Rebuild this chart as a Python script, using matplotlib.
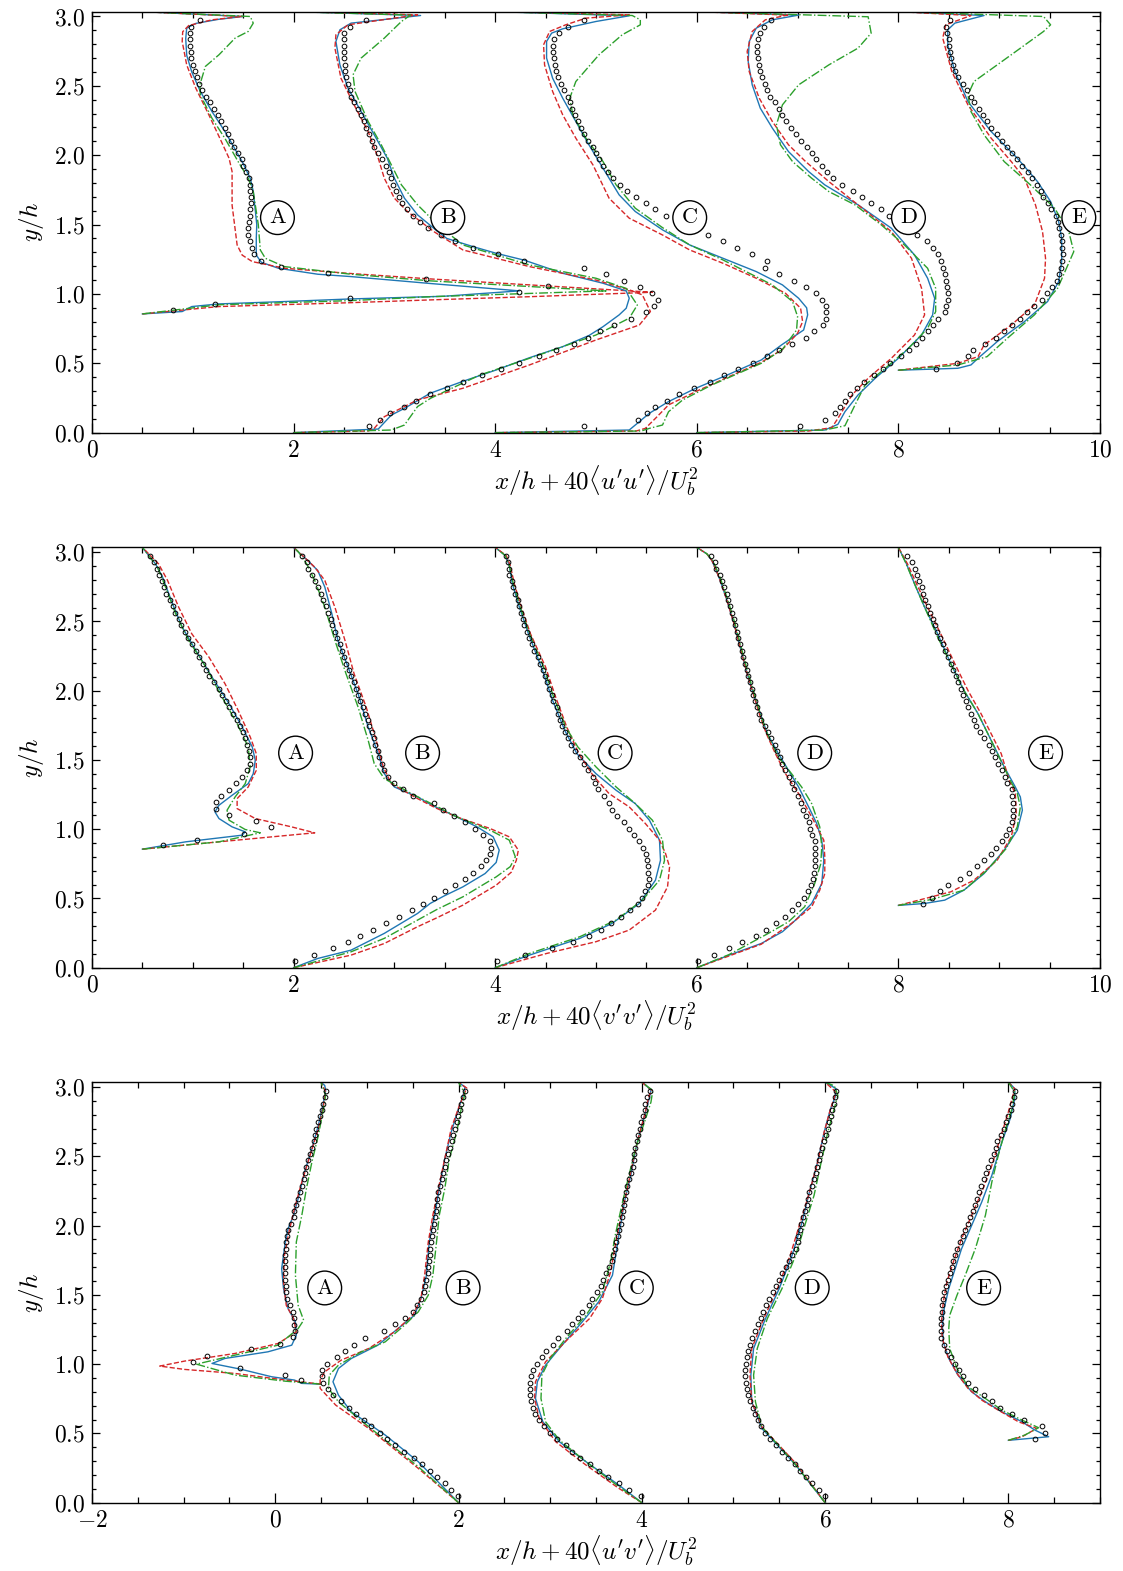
import numpy as np
import matplotlib.pyplot as plt
from matplotlib.ticker import MultipleLocator

plt.rcParams['mathtext.fontset'] = 'cm'
plt.rcParams['font.family'] = 'serif'
plt.rcParams['font.serif'] = ['cmr10']
plt.rcParams['axes.formatter.use_mathtext'] = True

# stations and wall height
stations = ['A', 'B', 'C', 'D', 'E']
y_top = 3.035

# reference (DNS) sampling heights, shared by the stations
y_dns = [0.046, 0.092, 0.140, 0.183, 0.229, 0.276, 0.322, 0.368, 0.414, 0.459,
         0.505, 0.551, 0.594, 0.640, 0.685, 0.731, 0.776, 0.822, 0.867, 0.913,
         0.958, 1.004, 1.049, 1.095, 1.141, 1.187, 1.240, 1.288, 1.333, 1.378,
         1.425, 1.472, 1.520, 1.564, 1.610, 1.656, 1.699, 1.743, 1.786, 1.834,
         1.880, 1.925, 1.970, 2.014, 2.060, 2.106, 2.151, 2.195, 2.243, 2.289,
         2.334, 2.380, 2.423, 2.471, 2.516, 2.562, 2.609, 2.653, 2.700, 2.746,
         2.790, 2.837, 2.880, 2.926, 2.972]
y_dns_crest = [0.885, 0.925, 0.969, 1.017, 1.060, 1.106, 1.149, 1.197, 1.240, 1.286]

# ---------------- <u'u'> ----------------
uu_dns_a = [0.80, 1.22, 2.56, 4.24, 4.52, 3.31, 2.34, 1.88, 1.68, 1.61,
            1.585, 1.57,
            1.55, 1.55, 1.56, 1.566, 1.57, 1.576, 1.58, 1.57, 1.566, 1.553,
            1.53, 1.503, 1.487, 1.447, 1.41, 1.378, 1.35, 1.316, 1.283, 1.247,
            1.21, 1.174, 1.13, 1.09, 1.06, 1.043, 1.02, 1.0, 0.987, 0.98,
            0.974, 0.974, 0.977, 0.987, 1.07]
uu_dns_b = [2.75, 2.86, 2.96, 3.10, 3.21, 3.35, 3.52, 3.68, 3.87, 4.06,
            4.24, 4.43, 4.60, 4.78, 4.92, 5.04, 5.18, 5.35, 5.50, 5.58,
            5.62, 5.56, 5.44, 5.28, 5.10, 4.88, 4.29, 4.03, 3.78, 3.60,
            3.46, 3.33, 3.25, 3.18, 3.125, 3.08, 3.05, 3.02, 2.99, 2.97,
            2.95, 2.92, 2.88, 2.84, 2.80, 2.78, 2.75, 2.72, 2.70, 2.67,
            2.64, 2.60, 2.57, 2.56, 2.54, 2.52, 2.51, 2.51, 2.50, 2.50,
            2.50, 2.50, 2.50, 2.56, 2.72]
uu_dns_c = [4.88, 5.42, 5.51, 5.59, 5.70, 5.82, 5.97, 6.13, 6.27, 6.41,
            6.56, 6.70, 6.82, 6.94, 7.08, 7.16, 7.25, 7.28, 7.28, 7.28,
            7.24, 7.18, 7.08, 6.96, 6.82, 6.68, 6.70, 6.55, 6.40, 6.26,
            6.11, 5.95, 5.82, 5.69, 5.59, 5.50, 5.40, 5.31, 5.24, 5.17,
            5.12, 5.07, 5.03, 5.00, 4.97, 4.92, 4.88, 4.85, 4.82, 4.79,
            4.76, 4.74, 4.72, 4.68, 4.65, 4.62, 4.60, 4.59, 4.58, 4.57,
            4.57, 4.58, 4.63, 4.72, 4.88]
uu_dns_d = [7.02, 7.27, 7.37, 7.42, 7.47, 7.52, 7.59, 7.66, 7.76, 7.85,
            7.92, 8.03, 8.11, 8.17, 8.23, 8.29, 8.34, 8.39, 8.46, 8.47,
            8.49, 8.49, 8.48, 8.47, 8.46, 8.44, 8.42, 8.39, 8.34, 8.28,
            8.18, 8.09, 8.00, 7.91, 7.83, 7.73, 7.64, 7.55, 7.44, 7.35,
            7.29, 7.24, 7.18, 7.14, 7.09, 7.03, 6.98, 6.93, 6.89, 6.85,
            6.82, 6.78, 6.73, 6.70, 6.68, 6.65, 6.63, 6.62, 6.61, 6.60,
            6.60, 6.61, 6.63, 6.67, 6.74]
uu_dns_e = [8.37,
            8.58, 8.69, 8.74, 8.86, 8.97, 9.05, 9.13, 9.21, 9.28, 9.35,
            9.42, 9.47, 9.52, 9.57, 9.59, 9.61, 9.62, 9.63, 9.62, 9.62,
            9.61, 9.59, 9.58, 9.56, 9.51, 9.48, 9.43, 9.41, 9.38, 9.33,
            9.29, 9.23, 9.18, 9.13, 9.08, 9.03, 8.98, 8.92, 8.88, 8.84,
            8.80, 8.75, 8.72, 8.68, 8.64, 8.59, 8.56, 8.54, 8.52, 8.51,
            8.50, 8.50, 8.48, 8.47, 8.51]

# model profiles as (x, y) points; m1 solid blue, m2 dashed red, m3 dash-dot green
uu_a_m1 = [(0.5, 0.856), (0.895, 0.873), (0.99, 0.909), (1.26, 0.928), (1.91, 0.945),
           (2.57, 0.964), (3.49, 0.983), (3.85, 1.002), (4.24, 1.022), (3.36, 1.075),
           (2.57, 1.125), (2.24, 1.142), (1.85, 1.185), (1.68, 1.228), (1.63, 1.28),
           (1.63, 1.4), (1.635, 1.5), (1.6, 1.74), (1.57, 1.834), (1.49, 1.954),
           (1.32, 2.17), (1.19, 2.315), (1.075, 2.46), (0.99, 2.6), (0.94, 2.72),
           (0.93, 2.84), (0.94, 2.916), (1.03, 2.95), (1.26, 2.98), (1.5, 3.0), (0.5, 3.035)]
uu_a_m2 = [(0.5, 0.856), (1.26, 0.909), (2.57, 0.937), (3.36, 0.957), (4.34, 0.98),
           (5.56, 1.012), (3.36, 1.108), (2.57, 1.147), (1.91, 1.185), (1.59, 1.233),
           (1.49, 1.28), (1.44, 1.353), (1.39, 1.64), (1.39, 1.882), (1.36, 1.978),
           (1.27, 2.12), (1.16, 2.29), (1.03, 2.483), (0.94, 2.65), (0.895, 2.82),
           (0.9, 2.89), (0.96, 2.935), (1.19, 2.976), (1.49, 3.0), (0.5, 3.035)]
uu_a_m3 = [(0.5, 0.856), (1.26, 0.922), (2.57, 0.952), (3.36, 0.98), (5.1, 1.022),
           (3.36, 1.094), (2.57, 1.142), (1.91, 1.197), (1.72, 1.257), (1.67, 1.317),
           (1.65, 1.5), (1.6, 1.738), (1.55, 1.834), (1.45, 1.954), (1.32, 2.12),
           (1.19, 2.267), (1.075, 2.435), (1.07, 2.507), (1.125, 2.64), (1.26, 2.724),
           (1.42, 2.844), (1.55, 2.892), (1.6, 2.952), (1.57, 3.0), (0.5, 3.035)]
uu_b_m1 = [(2.0, 0.0), (2.84, 0.026), (2.97, 0.127), (3.1, 0.175), (3.355, 0.284),
           (3.68, 0.37), (4.01, 0.452), (4.34, 0.54), (4.67, 0.62), (4.93, 0.7),
           (5.07, 0.764), (5.23, 0.849), (5.3, 0.897), (5.33, 0.969), (5.3, 1.022),
           (5.07, 1.077), (4.67, 1.149), (4.29, 1.243), (4.01, 1.293), (3.78, 1.341),
           (3.52, 1.4), (3.43, 1.45), (3.23, 1.57), (3.1, 1.69), (3.0, 1.834),
           (2.93, 1.978), (2.8, 2.147), (2.67, 2.315), (2.54, 2.483), (2.46, 2.65),
           (2.42, 2.82), (2.46, 2.904), (2.57, 2.952), (3.26, 3.007), (2.0, 3.035)]
uu_b_m2 = [(2.0, 0.0), (2.74, 0.012), (2.8, 0.031), (2.9, 0.115), (3.23, 0.236),
           (3.68, 0.32), (4.34, 0.488), (5.0, 0.668), (5.43, 0.776), (5.54, 0.873),
           (5.46, 0.993), (5.33, 1.03), (5.0, 1.1), (4.34, 1.197), (3.68, 1.317),
           (3.39, 1.45), (3.13, 1.594), (3.0, 1.69), (2.9, 1.834), (2.84, 1.978),
           (2.74, 2.17), (2.6, 2.363), (2.47, 2.555), (2.41, 2.772), (2.42, 2.868),
           (2.54, 2.94), (3.23, 3.012), (2.0, 3.035)]
uu_b_m3 = [(2.0, 0.0), (2.97, 0.019), (3.1, 0.055), (3.23, 0.188), (3.36, 0.248),
           (3.85, 0.416), (4.34, 0.536), (5.0, 0.704), (5.33, 0.825), (5.41, 0.92),
           (5.3, 1.04), (5.0, 1.113), (4.34, 1.209), (3.68, 1.353), (3.43, 1.498),
           (3.23, 1.642), (3.07, 1.786), (2.97, 1.93), (2.87, 2.075), (2.74, 2.243),
           (2.61, 2.459), (2.59, 2.58), (2.67, 2.7), (2.9, 2.844), (3.07, 2.964),
           (3.16, 3.01), (2.0, 3.035)]
uu_c_m1 = [(4.0, 0.0), (5.33, 0.019), (5.41, 0.067), (5.53, 0.14), (5.72, 0.224),
           (5.99, 0.32), (6.32, 0.421), (6.64, 0.524), (6.84, 0.632), (7.06, 0.74),
           (7.1, 0.849), (7.09, 0.9), (7.01, 0.969), (6.85, 1.065), (6.59, 1.161),
           (6.26, 1.257), (5.93, 1.353), (5.66, 1.462), (5.39, 1.594), (5.23, 1.714),
           (5.07, 1.906), (4.93, 2.075), (4.8, 2.243), (4.67, 2.411), (4.57, 2.555),
           (4.51, 2.7), (4.51, 2.82), (4.56, 2.88), (4.67, 2.911), (5.0, 2.964),
           (5.33, 3.005), (4.0, 3.035)]
uu_c_m2 = [(4.0, 0.0), (5.4, 0.012), (5.49, 0.031), (5.59, 0.103), (5.72, 0.2),
           (5.99, 0.296), (6.32, 0.404), (6.64, 0.507), (6.85, 0.6), (7.0, 0.716),
           (7.05, 0.8), (7.03, 0.897), (6.88, 1.005), (6.59, 1.113), (6.26, 1.221),
           (5.93, 1.317), (5.66, 1.425), (5.33, 1.546), (5.13, 1.69), (4.97, 1.93),
           (4.8, 2.123), (4.67, 2.291), (4.57, 2.459), (4.49, 2.651), (4.48, 2.796),
           (4.54, 2.892), (4.7, 2.94), (4.9, 2.988), (5.33, 3.012), (4.0, 3.035)]
uu_c_m3 = [(4.0, 0.0), (5.45, 0.012), (5.53, 0.031), (5.66, 0.055), (5.72, 0.151),
           (5.86, 0.236), (6.15, 0.344), (6.64, 0.5), (6.85, 0.6), (6.99, 0.74),
           (7.0, 0.837), (6.95, 0.945), (6.75, 1.065), (6.26, 1.245), (5.93, 1.353),
           (5.66, 1.478), (5.39, 1.618), (5.2, 1.786), (5.07, 1.954), (4.9, 2.123),
           (4.77, 2.291), (4.74, 2.411), (4.8, 2.531), (5.03, 2.724), (5.26, 2.868),
           (5.44, 2.94), (5.44, 2.976), (5.36, 3.007), (4.0, 3.035)]
uu_d_m1 = [(6.0, 0.0), (7.27, 0.019), (7.4, 0.06), (7.47, 0.151), (7.6, 0.272),
           (7.77, 0.392), (8.0, 0.536), (8.23, 0.704), (8.34, 0.849), (8.36, 0.969),
           (8.29, 1.113), (8.16, 1.281), (7.93, 1.474), (7.6, 1.642), (7.27, 1.786),
           (7.11, 1.882), (6.91, 2.026), (6.75, 2.195), (6.63, 2.339), (6.55, 2.507),
           (6.51, 2.675), (6.52, 2.82), (6.59, 2.916), (6.75, 2.976), (7.01, 3.01),
           (6.0, 3.035)]
uu_d_m2 = [(6.0, 0.0), (7.11, 0.012), (7.34, 0.036), (7.4, 0.103), (7.54, 0.272),
           (7.7, 0.392), (7.93, 0.536), (8.16, 0.704), (8.26, 0.849), (8.23, 1.041),
           (8.13, 1.257), (7.93, 1.45), (7.6, 1.642), (7.31, 1.81), (7.08, 1.954),
           (6.91, 2.075), (6.75, 2.243), (6.62, 2.411), (6.52, 2.603), (6.5, 2.748),
           (6.55, 2.892), (6.68, 2.976), (6.9, 3.01), (6.0, 3.035)]
uu_d_m3 = [(6.0, 0.0), (7.27, 0.019), (7.47, 0.05), (7.57, 0.2), (7.67, 0.344),
           (7.87, 0.464), (8.1, 0.608), (8.29, 0.752), (8.37, 0.873), (8.37, 1.041),
           (8.29, 1.185), (8.06, 1.353), (7.83, 1.498), (7.57, 1.642), (7.31, 1.738),
           (7.14, 1.834), (6.95, 1.954), (6.83, 2.075), (6.79, 2.219), (6.85, 2.363),
           (7.01, 2.507), (7.31, 2.651), (7.6, 2.772), (7.73, 2.88), (7.7, 2.998),
           (6.0, 3.035)]
uu_e_m1 = [(8.0, 0.45), (8.59, 0.464), (8.72, 0.488), (8.79, 0.536), (8.98, 0.656),
           (9.25, 0.8), (9.48, 0.945), (9.59, 1.089), (9.62, 1.233), (9.62, 1.401),
           (9.59, 1.522), (9.51, 1.666), (9.38, 1.81), (9.18, 1.978), (8.92, 2.171),
           (8.69, 2.387), (8.56, 2.603), (8.49, 2.796), (8.49, 2.904), (8.56, 2.952),
           (8.85, 3.007), (8.0, 3.035)]
uu_e_m2 = [(8.0, 0.45), (8.59, 0.5), (8.79, 0.548), (8.85, 0.632), (9.12, 0.776),
           (9.35, 0.921), (9.45, 1.113), (9.46, 1.257), (9.43, 1.45), (9.36, 1.642),
           (9.25, 1.834), (9.12, 1.954), (8.92, 2.123), (8.69, 2.363), (8.53, 2.603),
           (8.44, 2.844), (8.47, 2.94), (8.72, 3.007), (8.0, 3.035)]
uu_e_m3 = [(8.0, 0.45), (8.59, 0.488), (8.88, 0.548), (9.08, 0.68), (9.35, 0.849),
           (9.58, 1.041), (9.74, 1.305), (9.69, 1.45), (9.55, 1.618), (9.31, 1.786),
           (9.05, 1.954), (8.85, 2.147), (8.72, 2.315), (8.69, 2.435), (8.75, 2.531),
           (9.12, 2.724), (9.44, 2.892), (9.51, 2.94), (9.44, 3.0), (8.0, 3.035)]

# ---------------- <v'v'> ----------------
vv_dns_a = [0.70, 1.04, 1.51, 1.78, 1.63, 1.36, 1.23, 1.23, 1.28, 1.36,
            1.43, 1.49,
            1.54, 1.57, 1.57, 1.56, 1.54, 1.52, 1.50, 1.47, 1.44, 1.40,
            1.36, 1.33, 1.29, 1.26, 1.21, 1.16, 1.13, 1.10, 1.06, 1.03,
            0.99, 0.95, 0.92, 0.88, 0.86, 0.82, 0.80, 0.77, 0.73, 0.71,
            0.69, 0.66, 0.65, 0.62, 0.58]
vv_dns_b = [2.01, 2.20, 2.39, 2.54, 2.66, 2.79, 2.92, 3.05, 3.17, 3.28,
            3.39, 3.50, 3.60, 3.70, 3.78, 3.86, 3.91, 3.95, 3.96, 3.95,
            3.88, 3.80, 3.70, 3.59, 3.48, 3.39, 3.18, 3.09, 3.00, 2.94,
            2.90, 2.88, 2.85, 2.84, 2.81, 2.80, 2.78, 2.75, 2.74, 2.71,
            2.69, 2.66, 2.64, 2.62, 2.60, 2.57, 2.55, 2.52, 2.50, 2.48,
            2.46, 2.43, 2.41, 2.38, 2.37, 2.34, 2.32, 2.29, 2.27, 2.24,
            2.21, 2.18, 2.14, 2.13, 2.08]
vv_dns_c = [4.02, 4.30, 4.56, 4.77, 4.93, 5.05, 5.15, 5.25, 5.34, 5.42,
            5.46, 5.49, 5.52, 5.53, 5.52, 5.52, 5.51, 5.50, 5.47, 5.43,
            5.38, 5.33, 5.28, 5.21, 5.16, 5.13, 5.08, 5.02, 4.99, 4.97,
            4.92, 4.88, 4.84, 4.79, 4.75, 4.72, 4.69, 4.66, 4.64, 4.62,
            4.61, 4.57, 4.56, 4.53, 4.51, 4.49, 4.47, 4.44, 4.42, 4.39,
            4.37, 4.34, 4.32, 4.29, 4.28, 4.26, 4.24, 4.23, 4.20, 4.18,
            4.17, 4.14, 4.14, 4.13, 4.11]
vv_dns_d = [6.01, 6.17, 6.32, 6.45, 6.59, 6.69, 6.79, 6.88, 6.94, 7.00,
            7.06, 7.10, 7.13, 7.15, 7.16, 7.17, 7.17, 7.17, 7.17, 7.17,
            7.14, 7.12, 7.11, 7.08, 7.05, 7.03, 7.00, 6.96, 6.94, 6.91,
            6.88, 6.85, 6.83, 6.80, 6.78, 6.74, 6.71, 6.68, 6.64, 6.62,
            6.60, 6.58, 6.56, 6.55, 6.53, 6.51, 6.50, 6.48, 6.46, 6.45,
            6.43, 6.41, 6.40, 6.38, 6.37, 6.35, 6.33, 6.31, 6.30, 6.27,
            6.25, 6.23, 6.19, 6.18, 6.14]
vv_dns_e = [8.24,
            8.33, 8.41, 8.49, 8.61, 8.70, 8.78, 8.85, 8.92, 8.97, 9.03,
            9.07, 9.10, 9.13, 9.14, 9.14, 9.14, 9.13, 9.13, 9.08, 9.06,
            9.03, 8.99, 8.96, 8.93, 8.90, 8.85, 8.81, 8.77, 8.75, 8.72,
            8.69, 8.67, 8.64, 8.62, 8.59, 8.57, 8.54, 8.52, 8.49, 8.46,
            8.44, 8.41, 8.38, 8.36, 8.34, 8.31, 8.29, 8.26, 8.24, 8.23,
            8.20, 8.18, 8.16, 8.14, 8.09]

vv_a_m1 = [(0.5, 0.856), (0.93, 0.909), (1.49, 0.957), (1.52, 0.981), (1.39, 1.017),
           (1.26, 1.077), (1.22, 1.125), (1.26, 1.173), (1.39, 1.245), (1.55, 1.329),
           (1.6, 1.401), (1.62, 1.498), (1.59, 1.594), (1.49, 1.738), (1.36, 1.906),
           (1.19, 2.099), (1.03, 2.291), (0.895, 2.459), (0.8, 2.627), (0.7, 2.82),
           (0.63, 2.916), (0.55, 2.988), (0.5, 3.035)]
vv_a_m2 = [(0.5, 0.856), (1.26, 0.909), (2.21, 0.974), (1.98, 1.017), (1.62, 1.077),
           (1.44, 1.149), (1.44, 1.221), (1.55, 1.305), (1.63, 1.425), (1.63, 1.546),
           (1.57, 1.666), (1.45, 1.858), (1.32, 2.05), (1.16, 2.243), (0.99, 2.411),
           (0.86, 2.603), (0.75, 2.796), (0.66, 2.916), (0.5, 3.035)]
vv_a_m3 = [(0.5, 0.856), (1.26, 0.909), (1.67, 0.974), (1.52, 0.998), (1.36, 1.065),
           (1.34, 1.137), (1.42, 1.233), (1.52, 1.329), (1.57, 1.45), (1.55, 1.594),
           (1.44, 1.762), (1.29, 1.954), (1.13, 2.171), (0.96, 2.363), (0.83, 2.555),
           (0.73, 2.748), (0.65, 2.892), (0.5, 3.035)]
vv_b_m1 = [(2.0, 0.0), (2.24, 0.067), (2.57, 0.127), (2.9, 0.248), (3.23, 0.392),
           (3.355, 0.464), (3.49, 0.517), (3.68, 0.584), (3.9, 0.68), (4.01, 0.76),
           (4.04, 0.849), (3.98, 0.945), (3.82, 1.017), (3.55, 1.113), (3.38, 1.17),
           (3.23, 1.233), (3.0, 1.305), (2.9, 1.401), (2.84, 1.546), (2.74, 1.738),
           (2.64, 1.978), (2.54, 2.171), (2.44, 2.363), (2.38, 2.555), (2.31, 2.748),
           (2.24, 2.868), (2.14, 2.94), (2.05, 3.0), (2.0, 3.035)]
vv_b_m2 = [(2.0, 0.0), (2.57, 0.091), (2.9, 0.175), (3.23, 0.296), (3.42, 0.36),
           (3.68, 0.452), (4.01, 0.596), (4.16, 0.69), (4.21, 0.776), (4.23, 0.849),
           (4.14, 0.945), (3.95, 1.005), (3.62, 1.089), (3.42, 1.15), (3.23, 1.221),
           (2.97, 1.329), (2.89, 1.45), (2.82, 1.642), (2.72, 1.882), (2.6, 2.123),
           (2.51, 2.363), (2.41, 2.603), (2.31, 2.796), (2.21, 2.892), (2.07, 2.988),
           (2.0, 3.035)]
vv_b_m3 = [(2.0, 0.0), (2.57, 0.115), (2.9, 0.212), (3.23, 0.344), (3.42, 0.42),
           (3.68, 0.512), (4.01, 0.656), (4.15, 0.73), (4.2, 0.8), (4.14, 0.921),
           (3.95, 0.993), (3.62, 1.089), (3.42, 1.165), (3.17, 1.257), (2.9, 1.365),
           (2.8, 1.474), (2.74, 1.642), (2.64, 1.882), (2.52, 2.123), (2.41, 2.363),
           (2.31, 2.603), (2.21, 2.796), (2.13, 2.916), (2.05, 3.0), (2.0, 3.035)]
vv_c_m1 = [(4.0, 0.0), (4.34, 0.091), (4.84, 0.212), (5.16, 0.32), (5.43, 0.464),
           (5.59, 0.632), (5.64, 0.776), (5.63, 0.921), (5.53, 1.065), (5.39, 1.185),
           (5.2, 1.281), (5.0, 1.401), (4.81, 1.546), (4.69, 1.714), (4.57, 1.93),
           (4.47, 2.147), (4.33, 2.411), (4.24, 2.603), (4.17, 2.772), (4.14, 2.904),
           (4.1, 2.976), (4.0, 3.035)]
vv_c_m2 = [(4.0, 0.0), (4.51, 0.103), (5.0, 0.188), (5.33, 0.272), (5.59, 0.416),
           (5.71, 0.584), (5.73, 0.728), (5.69, 0.825), (5.63, 0.921), (5.49, 1.041),
           (5.33, 1.161), (5.13, 1.257), (4.97, 1.389), (4.83, 1.546), (4.71, 1.738),
           (4.6, 1.954), (4.5, 2.171), (4.35, 2.411), (4.26, 2.603), (4.19, 2.772),
           (4.15, 2.904), (4.11, 2.976), (4.0, 3.035)]
vv_c_m3 = [(4.0, 0.0), (4.34, 0.103), (4.84, 0.224), (5.2, 0.344), (5.46, 0.488),
           (5.63, 0.632), (5.68, 0.776), (5.66, 0.921), (5.56, 1.065), (5.39, 1.185),
           (5.2, 1.305), (5.0, 1.45), (4.82, 1.594), (4.7, 1.738), (4.58, 1.954),
           (4.48, 2.171), (4.34, 2.411), (4.25, 2.603), (4.18, 2.772), (4.14, 2.904),
           (4.1, 2.976), (4.0, 3.035)]
vv_d_m1 = [(6.0, 0.0), (6.32, 0.091), (6.64, 0.175), (6.85, 0.26), (6.98, 0.344),
           (7.14, 0.464), (7.24, 0.608), (7.26, 0.776), (7.24, 0.921), (7.19, 1.041),
           (7.11, 1.161), (7.01, 1.305), (6.91, 1.425), (6.81, 1.546), (6.7, 1.69),
           (6.63, 1.834), (6.56, 1.978), (6.5, 2.123), (6.43, 2.315), (6.37, 2.483),
           (6.3, 2.651), (6.22, 2.82), (6.15, 2.94), (6.1, 2.988), (6.0, 3.035)]
vv_d_m2 = [(6.0, 0.0), (6.32, 0.085), (6.64, 0.17), (6.94, 0.32), (7.14, 0.44),
           (7.22, 0.56), (7.27, 0.68), (7.27, 0.8), (7.26, 0.921), (7.14, 1.089),
           (7.01, 1.257), (6.88, 1.401), (6.78, 1.546), (6.69, 1.69), (6.62, 1.834),
           (6.56, 1.978), (6.5, 2.123), (6.43, 2.315), (6.37, 2.483), (6.3, 2.651),
           (6.22, 2.82), (6.15, 2.94), (6.1, 2.988), (6.0, 3.035)]
vv_d_m3 = [(6.0, 0.0), (6.32, 0.095), (6.71, 0.248), (6.91, 0.332), (7.07, 0.44),
           (7.17, 0.608), (7.23, 0.75), (7.24, 0.873), (7.22, 1.017), (7.14, 1.185),
           (7.04, 1.305), (6.94, 1.401), (6.81, 1.522), (6.7, 1.69), (6.63, 1.834),
           (6.57, 1.978), (6.51, 2.123), (6.44, 2.315), (6.38, 2.483), (6.31, 2.651),
           (6.23, 2.82), (6.16, 2.94), (6.1, 2.988), (6.0, 3.035)]
vv_e_m1 = [(8.0, 0.45), (8.26, 0.464), (8.46, 0.488), (8.65, 0.56), (8.85, 0.68),
           (9.05, 0.849), (9.18, 0.993), (9.23, 1.137), (9.21, 1.233), (9.16, 1.305),
           (9.05, 1.45), (8.92, 1.642), (8.79, 1.834), (8.65, 2.002), (8.52, 2.195),
           (8.39, 2.411), (8.26, 2.603), (8.16, 2.772), (8.08, 2.916), (8.0, 3.035)]
vv_e_m2 = [(8.0, 0.45), (8.33, 0.512), (8.52, 0.548), (8.75, 0.632), (8.98, 0.776),
           (9.12, 0.945), (9.17, 1.113), (9.16, 1.257), (9.1, 1.353), (9.02, 1.546),
           (8.92, 1.69), (8.82, 1.834), (8.69, 2.002), (8.56, 2.195), (8.42, 2.411),
           (8.29, 2.603), (8.18, 2.772), (8.09, 2.916), (8.0, 3.035)]
vv_e_m3 = [(8.0, 0.45), (8.33, 0.493), (8.65, 0.56), (8.88, 0.704), (9.07, 0.861),
           (9.18, 1.017), (9.21, 1.161), (9.18, 1.257), (9.11, 1.353), (9.03, 1.474),
           (8.92, 1.642), (8.79, 1.834), (8.65, 2.002), (8.52, 2.195), (8.39, 2.387),
           (8.26, 2.603), (8.16, 2.772), (8.07, 2.928), (8.0, 3.035)]

# ---------------- <u'v'> ----------------
uv_dns_a = [0.28, 0.11, -0.38, -0.90, -0.75, -0.27, 0.05, 0.19, 0.22, 0.21,
            0.20, 0.19,
            0.16, 0.13, 0.12, 0.12, 0.11, 0.11, 0.11, 0.11, 0.11, 0.12,
            0.12, 0.13, 0.14, 0.17, 0.20, 0.21, 0.23, 0.25, 0.27, 0.29,
            0.31, 0.32, 0.34, 0.36, 0.38, 0.40, 0.42, 0.43, 0.45, 0.47,
            0.49, 0.51, 0.52, 0.54, 0.55]
uv_dns_b = [1.99, 1.92, 1.85, 1.77, 1.69, 1.60, 1.51, 1.40, 1.31, 1.22,
            1.14, 1.05, 0.97, 0.88, 0.80, 0.72, 0.63, 0.58, 0.52, 0.51,
            0.51, 0.57, 0.67, 0.76, 0.86, 0.98, 1.19, 1.31, 1.42, 1.50,
            1.55, 1.59, 1.62, 1.63, 1.65, 1.67, 1.67, 1.68, 1.69, 1.69,
            1.70, 1.71, 1.72, 1.73, 1.74, 1.75, 1.76, 1.77, 1.78, 1.80,
            1.82, 1.83, 1.85, 1.86, 1.88, 1.91, 1.93, 1.94, 1.96, 1.98,
            1.99, 2.02, 2.03, 2.05, 2.07]
uv_dns_c = [3.99, 3.86, 3.75, 3.63, 3.53, 3.43, 3.33, 3.24, 3.17, 3.08,
            3.00, 2.93, 2.88, 2.84, 2.81, 2.79, 2.78, 2.78, 2.78, 2.79,
            2.81, 2.86, 2.91, 2.96, 3.03, 3.09, 3.18, 3.24, 3.30, 3.35,
            3.42, 3.46, 3.51, 3.55, 3.58, 3.61, 3.64, 3.67, 3.69, 3.71,
            3.72, 3.74, 3.75, 3.77, 3.78, 3.80, 3.81, 3.82, 3.83, 3.84,
            3.86, 3.88, 3.90, 3.91, 3.92, 3.93, 3.95, 3.96, 3.98, 3.99,
            4.01, 4.03, 4.04, 4.06, 4.09]
uv_dns_d = [6.00, 5.93, 5.86, 5.79, 5.73, 5.67, 5.60, 5.53, 5.46, 5.40,
            5.34, 5.30, 5.27, 5.24, 5.21, 5.18, 5.16, 5.15, 5.14, 5.13,
            5.13, 5.14, 5.15, 5.16, 5.18, 5.20, 5.23, 5.27, 5.30, 5.32,
            5.36, 5.39, 5.43, 5.46, 5.50, 5.53, 5.57, 5.61, 5.64, 5.68,
            5.70, 5.71, 5.73, 5.74, 5.76, 5.78, 5.80, 5.81, 5.83, 5.86,
            5.88, 5.90, 5.91, 5.93, 5.95, 5.97, 5.99, 6.01, 6.03, 6.04,
            6.06, 6.08, 6.10, 6.11, 6.12]
uv_dns_e = [8.29,
            8.40, 8.37, 8.17, 8.04, 7.91, 7.82, 7.73, 7.64, 7.56, 7.51,
            7.46, 7.42, 7.37, 7.33, 7.30, 7.27, 7.27, 7.27, 7.27, 7.28,
            7.28, 7.29, 7.30, 7.32, 7.34, 7.36, 7.38, 7.40, 7.42, 7.44,
            7.47, 7.50, 7.53, 7.56, 7.58, 7.61, 7.64, 7.66, 7.68, 7.70,
            7.73, 7.76, 7.78, 7.81, 7.84, 7.86, 7.88, 7.92, 7.95, 7.97,
            8.00, 8.03, 8.04, 8.06, 8.07]

uv_a_m1 = [(0.49, 0.856), (0.29, 0.861), (0.21, 0.885), (-0.04, 0.909), (-0.38, 0.964),
           (-0.69, 1.005), (-0.55, 1.041), (-0.08, 1.089), (0.18, 1.137), (0.23, 1.209),
           (0.22, 1.305), (0.14, 1.401), (0.09, 1.546), (0.07, 1.69), (0.11, 1.882),
           (0.14, 1.978), (0.2, 2.075), (0.25, 2.195), (0.32, 2.387), (0.4, 2.555),
           (0.47, 2.724), (0.52, 2.868), (0.55, 2.976), (0.54, 3.012), (0.5, 3.035)]
uv_a_m2 = [(0.5, 0.856), (0.11, 0.885), (-0.44, 0.933), (-0.99, 0.962), (-1.26, 0.986),
           (-0.99, 1.022), (-0.44, 1.077), (0.03, 1.149), (0.23, 1.233), (0.2, 1.329),
           (0.12, 1.425), (0.09, 1.594), (0.1, 1.786), (0.15, 1.954), (0.21, 2.123),
           (0.29, 2.315), (0.38, 2.507), (0.47, 2.7), (0.52, 2.844), (0.55, 2.964),
           (0.5, 3.035)]
uv_a_m3 = [(0.5, 0.856), (0.11, 0.877), (-0.44, 0.921), (-0.86, 1.0), (-0.44, 1.065),
           (0.03, 1.137), (0.25, 1.257), (0.31, 1.317), (0.25, 1.425), (0.22, 1.642),
           (0.23, 1.882), (0.29, 2.075), (0.34, 2.267), (0.4, 2.459), (0.47, 2.651),
           (0.52, 2.82), (0.55, 2.94), (0.5, 3.035)]
uv_b_m1 = [(2.0, 0.0), (1.56, 0.296), (1.2, 0.488), (0.83, 0.656), (0.69, 0.776),
           (0.63, 0.873), (0.69, 0.969), (0.83, 1.041), (1.12, 1.137), (1.34, 1.257),
           (1.52, 1.353), (1.59, 1.474), (1.65, 1.642), (1.68, 1.882), (1.74, 2.075),
           (1.79, 2.267), (1.85, 2.483), (1.92, 2.675), (2.0, 2.844), (2.05, 2.94),
           (2.07, 3.0), (2.0, 3.035)]
uv_b_m2 = [(2.0, 0.0), (1.56, 0.248), (1.02, 0.536), (0.66, 0.704), (0.49, 0.825),
           (0.49, 0.885), (0.54, 0.945), (0.72, 1.029), (1.02, 1.113), (1.3, 1.233),
           (1.5, 1.353), (1.59, 1.474), (1.63, 1.642), (1.67, 1.882), (1.72, 2.075),
           (1.78, 2.267), (1.85, 2.483), (1.92, 2.7), (2.01, 2.868), (2.07, 2.964),
           (2.09, 2.993), (2.0, 3.035)]
uv_b_m3 = [(2.0, 0.0), (1.56, 0.26), (1.02, 0.548), (0.69, 0.728), (0.58, 0.825),
           (0.59, 0.921), (0.69, 0.993), (0.94, 1.089), (1.2, 1.161), (1.41, 1.281),
           (1.56, 1.377), (1.67, 1.498), (1.72, 1.642), (1.76, 1.882), (1.79, 2.075),
           (1.85, 2.267), (1.9, 2.483), (1.98, 2.675), (2.03, 2.844), (2.07, 2.952),
           (2.0, 3.035)]
uv_c_m1 = [(4.0, 0.0), (3.75, 0.127), (3.39, 0.296), (3.1, 0.44), (2.92, 0.584),
           (2.84, 0.752), (2.86, 0.873), (2.95, 0.993), (3.13, 1.137), (3.35, 1.305),
           (3.53, 1.45), (3.68, 1.642), (3.75, 1.93), (3.81, 2.171), (3.88, 2.363),
           (3.95, 2.603), (4.03, 2.796), (4.08, 2.916), (4.1, 2.976), (4.04, 3.017),
           (4.0, 3.035)]
uv_c_m2 = [(4.0, 0.0), (3.75, 0.103), (3.39, 0.272), (3.06, 0.44), (2.88, 0.608),
           (2.83, 0.752), (2.84, 0.873), (2.95, 1.017), (3.2, 1.185), (3.43, 1.329),
           (3.57, 1.474), (3.66, 1.666), (3.73, 1.93), (3.81, 2.171), (3.88, 2.387),
           (3.95, 2.603), (4.03, 2.796), (4.08, 2.94), (4.11, 2.976), (4.0, 3.035)]
uv_c_m3 = [(4.0, 0.0), (3.75, 0.115), (3.39, 0.296), (3.1, 0.452), (2.95, 0.584),
           (2.9, 0.752), (2.91, 0.921), (3.0, 1.041), (3.17, 1.185), (3.39, 1.353),
           (3.57, 1.522), (3.66, 1.738), (3.71, 1.93), (3.79, 2.171), (3.86, 2.363),
           (3.93, 2.555), (4.03, 2.748), (4.1, 2.892), (4.12, 2.976), (4.0, 3.035)]
uv_d_m1 = [(6.0, 0.0), (5.68, 0.272), (5.31, 0.536), (5.2, 0.728), (5.19, 0.921),
           (5.22, 1.113), (5.35, 1.329), (5.5, 1.546), (5.64, 1.786), (5.75, 2.026),
           (5.82, 2.219), (5.91, 2.435), (5.99, 2.675), (6.06, 2.844), (6.11, 2.928),
           (6.12, 2.988), (6.05, 3.017), (6.0, 3.035)]
uv_d_m2 = [(6.0, 0.0), (5.68, 0.284), (5.31, 0.548), (5.2, 0.728), (5.18, 0.921),
           (5.2, 1.113), (5.33, 1.329), (5.48, 1.546), (5.62, 1.786), (5.73, 2.026),
           (5.82, 2.219), (5.91, 2.435), (5.99, 2.675), (6.06, 2.844), (6.12, 2.964),
           (6.0, 3.035)]
uv_d_m3 = [(6.0, 0.0), (5.68, 0.272), (5.31, 0.548), (5.24, 0.728), (5.22, 0.921),
           (5.26, 1.113), (5.37, 1.329), (5.53, 1.546), (5.68, 1.786), (5.79, 2.026),
           (5.88, 2.219), (5.95, 2.435), (6.03, 2.675), (6.1, 2.844), (6.14, 2.94),
           (6.1, 3.01), (6.0, 3.035)]
uv_e_m1 = [(8.0, 0.45), (8.44, 0.476), (8.29, 0.524), (8.15, 0.584), (7.93, 0.656),
           (7.75, 0.728), (7.6, 0.8), (7.45, 0.921), (7.35, 1.041), (7.29, 1.161),
           (7.28, 1.281), (7.3, 1.401), (7.35, 1.546), (7.42, 1.69), (7.49, 1.834),
           (7.6, 2.002), (7.71, 2.171), (7.82, 2.363), (7.93, 2.603), (8.02, 2.772),
           (8.07, 2.916), (8.07, 2.988), (8.02, 3.024), (8.0, 3.035)]
uv_e_m2 = [(8.0, 0.45), (8.15, 0.476), (8.31, 0.536), (8.11, 0.584), (7.89, 0.668),
           (7.71, 0.74), (7.56, 0.825), (7.44, 0.933), (7.34, 1.053), (7.28, 1.185),
           (7.27, 1.305), (7.29, 1.45), (7.33, 1.594), (7.4, 1.738), (7.49, 1.906),
           (7.6, 2.075), (7.71, 2.243), (7.82, 2.435), (7.91, 2.627), (8.0, 2.82),
           (8.05, 2.94), (8.07, 2.988), (8.0, 3.035)]
uv_e_m3 = [(8.0, 0.45), (8.18, 0.488), (8.33, 0.541), (8.15, 0.596), (7.93, 0.668),
           (7.75, 0.752), (7.56, 0.837), (7.44, 0.969), (7.36, 1.113), (7.35, 1.257),
           (7.36, 1.353), (7.44, 1.498), (7.53, 1.642), (7.64, 1.834), (7.75, 2.075),
           (7.82, 2.315), (7.89, 2.507), (7.96, 2.675), (8.04, 2.844), (8.07, 2.964),
           (8.0, 3.035)]

# circled station labels
uu_label_x = [1.84, 3.53, 5.93, 8.10, 9.79]
vv_label_x = [2.02, 3.28, 5.19, 7.17, 9.46]
uv_label_x = [0.54, 2.05, 3.94, 5.86, 7.73]
label_y = 1.55

model_styles = [('#1f77b4', '-'), ('#d62728', '--'), ('#2ca02c', '-.')]


def dns_heights(station):
    if station == 'A':
        return y_dns_crest + y_dns[28:]
    if station == 'E':
        return y_dns[9:]
    return y_dns


def draw_panel(ax, models, dns, label_x, xlim, xlabel):
    for st in stations:
        for pts, (col, ls) in zip(models[st], model_styles):
            xy = np.array(pts)
            ax.plot(xy[:, 0], xy[:, 1], color=col, ls=ls, lw=1.0, zorder=2)
        ax.plot(dns[st], dns_heights(st), ls='none', marker='o', ms=3.4,
                mfc='none', mec='black', mew=0.7, zorder=3)
    for st, lx in zip(stations, label_x):
        ax.text(lx, label_y, st, ha='center', va='center', fontsize=16, zorder=6,
                bbox=dict(boxstyle='circle,pad=0.32', fc='white', ec='black', lw=1.0))
    ax.set_xlim(*xlim)
    ax.set_ylim(0, y_top)
    ax.xaxis.set_major_locator(MultipleLocator(2))
    ax.xaxis.set_minor_locator(MultipleLocator(0.5))
    ax.yaxis.set_major_locator(MultipleLocator(0.5))
    ax.yaxis.set_minor_locator(MultipleLocator(0.1))
    ax.tick_params(which='both', direction='in', top=True, right=True,
                   labelsize=17, width=0.9)
    ax.tick_params(axis='x', which='major', length=7.5, pad=5)
    ax.tick_params(axis='x', which='minor', length=4.5)
    ax.tick_params(axis='y', which='major', length=5.5, pad=5)
    ax.tick_params(axis='y', which='minor', length=3)
    for sp in ax.spines.values():
        sp.set_linewidth(1.0)
    ax.set_xlabel(xlabel, fontsize=18, labelpad=1)
    ax.set_ylabel(r'$y/h$', fontsize=18, labelpad=6)


def main():
    fig = plt.figure(figsize=(11.23, 15.71), dpi=100)
    ax1 = fig.add_axes([0.0819, 0.7246, 0.8976, 0.2680])
    ax2 = fig.add_axes([0.0819, 0.3840, 0.8976, 0.2676])
    ax3 = fig.add_axes([0.0819, 0.0435, 0.8976, 0.2676])

    uu_models = {'A': (uu_a_m1, uu_a_m2, uu_a_m3), 'B': (uu_b_m1, uu_b_m2, uu_b_m3),
                 'C': (uu_c_m1, uu_c_m2, uu_c_m3), 'D': (uu_d_m1, uu_d_m2, uu_d_m3),
                 'E': (uu_e_m1, uu_e_m2, uu_e_m3)}
    uu_dns = {'A': uu_dns_a, 'B': uu_dns_b, 'C': uu_dns_c, 'D': uu_dns_d, 'E': uu_dns_e}
    vv_models = {'A': (vv_a_m1, vv_a_m2, vv_a_m3), 'B': (vv_b_m1, vv_b_m2, vv_b_m3),
                 'C': (vv_c_m1, vv_c_m2, vv_c_m3), 'D': (vv_d_m1, vv_d_m2, vv_d_m3),
                 'E': (vv_e_m1, vv_e_m2, vv_e_m3)}
    vv_dns = {'A': vv_dns_a, 'B': vv_dns_b, 'C': vv_dns_c, 'D': vv_dns_d, 'E': vv_dns_e}
    uv_models = {'A': (uv_a_m1, uv_a_m2, uv_a_m3), 'B': (uv_b_m1, uv_b_m2, uv_b_m3),
                 'C': (uv_c_m1, uv_c_m2, uv_c_m3), 'D': (uv_d_m1, uv_d_m2, uv_d_m3),
                 'E': (uv_e_m1, uv_e_m2, uv_e_m3)}
    uv_dns = {'A': uv_dns_a, 'B': uv_dns_b, 'C': uv_dns_c, 'D': uv_dns_d, 'E': uv_dns_e}

    draw_panel(ax1, uu_models, uu_dns, uu_label_x, (0, 10),
               r"$x/h + 40\langle u'u'\rangle/U_b^2$")
    draw_panel(ax2, vv_models, vv_dns, vv_label_x, (0, 10),
               r"$x/h + 40\langle v'v'\rangle/U_b^2$")
    draw_panel(ax3, uv_models, uv_dns, uv_label_x, (-2, 9),
               r"$x/h + 40\langle u'v'\rangle/U_b^2$")

    fig.savefig('out.png', dpi=100)


if __name__ == "__main__":
    main()
